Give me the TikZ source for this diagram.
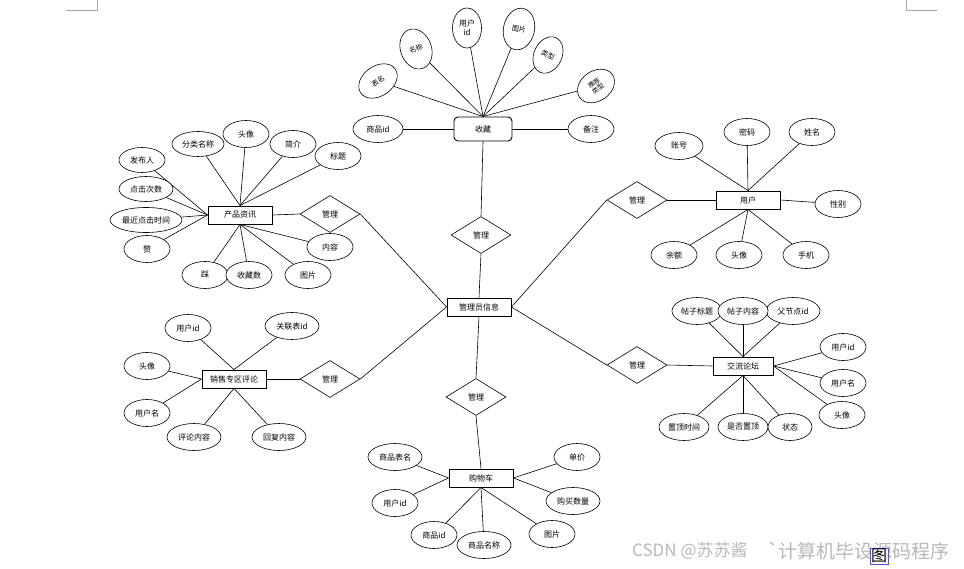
\documentclass[tikz,border=0pt]{standalone}
\usepackage{fontspec}
\newfontfamily\cjk{Noto Sans CJK SC}
\usetikzlibrary{shapes.geometric}
\pgfdeclarelayer{bg}
\pgfsetlayers{bg,main}
\begin{document}
\begin{tikzpicture}[x=1pt,y=-1pt,
  every node/.style={font=\cjk\fontsize{8}{9}\selectfont,inner sep=0pt},
  ent/.style={draw,line width=0.9pt,minimum width=64pt,minimum height=18pt,fill=white},
  attr/.style={draw,ellipse,fill=white,line width=0.6pt,minimum width=#1,minimum height=25pt},
  attr/.default=46pt,
  tilt/.style={draw,ellipse,fill=white,line width=0.6pt,font=\cjk\fontsize{7}{7.5}\selectfont,align=center},
  rel/.style={draw,diamond,fill=white,line width=0.6pt,minimum width=60pt,minimum height=37pt},
  ln/.style={line width=0.6pt},
  cornermark/.style={draw=gray!70,line width=0.5pt}
]
\useasboundingbox (0,0) rectangle (964,569);
\begin{pgfonlayer}{bg}
\fill[white] (0,0) rectangle (964,569);
\end{pgfonlayer}

% corner marks
\coordinate (m1a) at (66,10); \coordinate (m1b) at (97,10); \coordinate (m1c) at (97,0);
\draw[cornermark] (m1a) -- (m1b) -- (m1c);
\coordinate (m2a) at (937,10); \coordinate (m2b) at (906,10); \coordinate (m2c) at (906,0);
\draw[cornermark] (m2a) -- (m2b) -- (m2c);

% entities
\node[ent,rounded corners=4pt,minimum width=58pt,minimum height=24pt] (sc) at (483,129) {收藏};
\node[ent] (admin) at (479,307) {管理员信息};
\node[ent] (cp) at (240,215) {产品资讯};
\node[ent] (yh) at (748,200) {用户};
\node[ent] (xs) at (234,379) {销售专区评论};
\node[ent,minimum width=60pt] (jl) at (743,366) {交流论坛};
\node[ent] (gw) at (481,478) {购物车};

% relations
\node[rel] (r1) at (481,235) {管理};
\node[rel] (r2) at (476,397) {管理};
\node[rel] (r3) at (330,214) {管理};
\node[rel] (r4) at (330,379) {管理};
\node[rel] (r5) at (637,200) {管理};
\node[rel] (r6) at (637,365) {管理};

% 收藏 attributes
\node[attr=50pt,minimum height=27pt] (sc1) at (378,129) {商品id};
\node[attr,minimum height=27pt] (sc2) at (591,129) {备注};
\node[tilt,minimum width=42pt,minimum height=30pt,rotate=35] (sc3) at (378,81) {表名};
\node[tilt,minimum width=31pt,minimum height=41pt,rotate=20] (sc4) at (416,49) {名称};
\node[tilt,minimum width=29pt,minimum height=40pt,font=\cjk\fontsize{8}{9}\selectfont] (sc5) at (467,28) {用户\\id};
\node[tilt,minimum width=31pt,minimum height=42pt,rotate=-12] (sc6) at (519,29) {图片};
\node[tilt,minimum width=28pt,minimum height=38pt,rotate=-25] (sc7) at (548,55) {类型};
\node[tilt,minimum width=40pt,minimum height=30pt,rotate=35,font=\cjk\fontsize{6.5}{7}\selectfont] (sc8) at (596,86) {推荐\\类型};

% 产品资讯 attributes
\node[attr] (cp1) at (142,160) {发布人};
\node[attr=54pt] (cp2) at (146,189) {点击次数};
\node[attr=72pt] (cp3) at (146,220) {最近点击时间};
\node[attr,minimum height=27pt] (cp4) at (147,249) {赞};
\node[attr,minimum height=27pt] (cp5) at (205,275) {踩};
\node[attr,minimum height=27pt] (cp6) at (249,275) {收藏数};
\node[attr,minimum height=27pt] (cp7) at (308,275) {图片};
\node[attr,minimum height=27pt] (cp8) at (330,247) {内容};
\node[attr,minimum height=27pt] (cp9) at (338,156) {标题};
\node[attr,minimum height=27pt] (cp10) at (293,144) {简介};
\node[attr,minimum height=27pt] (cp11) at (246,134) {头像};
\node[attr=52pt] (cp12) at (198,144) {分类名称};

% 用户 attributes
\node[attr=48pt,minimum height=27pt] (yh1) at (679,146) {账号};
\node[attr,minimum height=27pt] (yh2) at (747,132) {密码};
\node[attr,minimum height=27pt] (yh3) at (812,132) {姓名};
\node[attr,minimum height=27pt] (yh4) at (838,204) {性别};
\node[attr,minimum height=27pt] (yh5) at (674,255) {余额};
\node[attr,minimum height=27pt] (yh6) at (739,255) {头像};
\node[attr,minimum height=27pt] (yh7) at (806,255) {手机};

% 交流论坛 attributes (帖子内容 drawn last so it lies on top)
\node[attr=50pt,minimum height=27pt] (jl1) at (697,311) {帖子标题};
\node[attr=54pt,minimum height=27pt] (jl3) at (793,311) {父节点id};
\node[attr=50pt,minimum height=27pt] (jl2) at (743,311) {帖子内容};
\node[attr,minimum height=27pt] (jl4) at (843,347) {用户id};
\node[attr,minimum height=27pt] (jl5) at (843,383) {用户名};
\node[attr,minimum height=27pt] (jl6) at (842,415) {头像};
\node[attr=50pt,minimum height=27pt] (jl7) at (684,427) {置顶时间};
\node[attr=50pt,minimum height=27pt] (jl8) at (743,427) {是否置顶};
\node[attr=44pt,minimum height=27pt] (jl9) at (790,427) {状态};

% 销售专区评论 attributes
\node[attr,minimum height=27pt] (xs1) at (188,328) {用户id};
\node[attr=54pt,minimum height=27pt] (xs2) at (292,326) {关联表id};
\node[attr,minimum height=27pt] (xs3) at (147,366) {头像};
\node[attr,minimum height=27pt] (xs4) at (147,413) {用户名};
\node[attr=54pt,minimum height=27pt] (xs5) at (194,437) {评论内容};
\node[attr=54pt,minimum height=27pt] (xs6) at (279,437) {回复内容};

% 购物车 attributes
\node[attr=54pt,minimum height=27pt] (gw1) at (395,457) {商品表名};
\node[attr,minimum height=27pt] (gw2) at (395,503) {用户id};
\node[attr,minimum height=27pt] (gw3) at (434,535) {商品id};
\node[attr=54pt,minimum height=27pt] (gw4) at (484,545) {商品名称};
\node[attr,minimum height=27pt] (gw5) at (552,534) {图片};
\node[attr=54pt,minimum height=27pt] (gw6) at (573,501) {购买数量};
\node[attr,minimum height=27pt] (gw7) at (577,457) {单价};

% connectors (behind the shapes)
\begin{pgfonlayer}{bg}
\draw[ln] (r1.north) -- (sc.south);
\draw[ln] (r1.south) -- (admin.north);
\draw[ln] (admin.south) -- (r2.north);
\draw[ln] (r2.south) -- (gw.north);
\draw[ln] (r3.east) -- (admin.west);
\draw[ln] (r4.east) -- (admin.west);
\draw[ln] (r5.west) -- (admin.east);
\draw[ln] (r6.west) -- (admin.east);
\draw[ln] (r3.west) -- (cp.east);
\draw[ln] (r4.west) -- (xs.east);
\draw[ln] (r5.east) -- (yh.west);
\draw[ln] (r6.east) -- (jl.west);
\draw[ln] (sc1) -- (sc);
\draw[ln] (sc2) -- (sc);
\foreach \a in {sc3,sc4,sc5,sc6,sc7,sc8} \draw[ln] (\a) -- (sc.north);
\foreach \a in {cp1,cp2,cp3,cp4} \draw[ln] (\a) -- (cp.west);
\foreach \a in {cp5,cp6,cp7,cp8} \draw[ln] (\a) -- (cp.south);
\foreach \a in {cp9,cp10,cp11,cp12} \draw[ln] (\a) -- (cp.north);
\foreach \a in {yh1,yh2,yh3} \draw[ln] (\a) -- (yh.north);
\foreach \a in {yh5,yh6,yh7} \draw[ln] (\a) -- (yh.south);
\draw[ln] (yh4) -- (yh.east);
\foreach \a in {jl1,jl2,jl3} \draw[ln] (\a) -- (jl.north);
\foreach \a in {jl4,jl5,jl6} \draw[ln] (\a) -- (jl.east);
\foreach \a in {jl7,jl8,jl9} \draw[ln] (\a) -- (jl.south);
\foreach \a in {xs1,xs2} \draw[ln] (\a) -- (xs.north);
\foreach \a in {xs3,xs4} \draw[ln] (\a) -- (xs.west);
\foreach \a in {xs5,xs6} \draw[ln] (\a) -- (xs.south);
\foreach \a in {gw1,gw2} \draw[ln] (\a) -- (gw.west);
\foreach \a in {gw6,gw7} \draw[ln] (\a) -- (gw.east);
\foreach \a in {gw3,gw4,gw5} \draw[ln] (\a) -- (gw.south);
\end{pgfonlayer}

% watermark
\node[anchor=west,text=gray!55,font=\cjk\fontsize{17}{18}\selectfont] (wm1) at (632,551) {CSDN @苏苏酱};
\node[anchor=west,text=gray!55,font=\cjk\fontsize{19}{20}\selectfont] (wm2) at (767,551) {`计算机毕设源码程序};
\node[draw=blue!70,line width=0.5pt,fill=white,font=\cjk\fontsize{16}{17}\selectfont,inner sep=1pt] (tu) at (879,556) {图};
\end{tikzpicture}
\end{document}
